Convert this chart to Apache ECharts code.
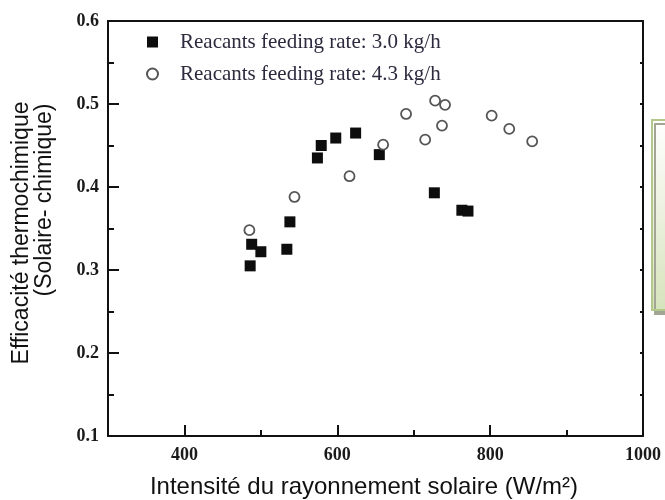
<!DOCTYPE html>
<html><head><meta charset="utf-8">
<script src="https://cdn.jsdelivr.net/npm/echarts@6/dist/echarts.min.js"></script>
<style>html,body{margin:0;padding:0;background:#fff}#c{width:665px;height:500px}</style>
</head><body><div id="c"></div>
<script>
var seriesNames = ['Reacants feeding rate: 3.0 kg/h', 'Reacants feeding rate: 4.3 kg/h'];
var sqX = [486, 488, 500, 534, 538, 574, 579, 598, 624, 655, 727, 763, 771];
var sqY = [0.305, 0.331, 0.322, 0.325, 0.358, 0.435, 0.450, 0.459, 0.465, 0.439, 0.393, 0.372, 0.371];
var ciX = [485, 544, 616, 660, 690, 715, 728, 741, 737, 802, 825, 855];
var ciY = [0.348, 0.388, 0.413, 0.451, 0.488, 0.457, 0.504, 0.499, 0.474, 0.486, 0.470, 0.455];
var xMajor = [400, 600, 800, 1000];
var xMinor = [500, 700, 900];
var xTitle = 'Intensité du rayonnement solaire (W/m²)';
var yTitle1 = 'Efficacité thermochimique';
var yTitle2 = '(Solaire- chimique)';

function pairs(xs, ys){ return xs.map(function(x,i){ return [x, ys[i]]; }); }

var chart = echarts.init(document.getElementById('c'), null, {renderer:'canvas'});
var tickLabel = {fontFamily:'Liberation Serif', fontWeight:'bold', fontSize:18, color:'#1a1a1a'};
chart.setOption({
  animation:false,
  grid:{left:108, right:22, top:21, bottom:64, containLabel:false},
  legend:{
    orient:'vertical', left:141, top:26, itemWidth:11, itemHeight:11, itemGap:10,
    textStyle:{fontFamily:'Liberation Serif', fontSize:21, color:'#2d2a3e', lineHeight:22, padding:[0,0,0,17]},
    data:[{name:seriesNames[0]},{name:seriesNames[1]}]
  },
  xAxis:[
    {type:'value', min:300, max:1000, interval:100,
     axisLine:{show:true, lineStyle:{color:'#111', width:2}},
     axisTick:{show:true, inside:true, length:11, customValues:xMajor, lineStyle:{color:'#111', width:2}},
     axisLabel:{customValues:xMajor, margin:10, formatter:function(v){return String(v);}, ...tickLabel},
     splitLine:{show:false}},
    {type:'value', min:300, max:1000, interval:100, position:'bottom',
     axisLine:{show:false},
     axisTick:{show:true, inside:true, length:6, customValues:xMinor, lineStyle:{color:'#111', width:2}},
     axisLabel:{show:false}, splitLine:{show:false}},
    {type:'value', min:300, max:1000, interval:100, position:'top',
     axisLine:{show:true, lineStyle:{color:'#111', width:2}},
     axisTick:{show:false}, axisLabel:{show:false}, splitLine:{show:false}}
  ],
  yAxis:[
    {type:'value', min:0.1, max:0.6, interval:0.1,
     axisLine:{show:true, lineStyle:{color:'#111', width:2}},
     axisTick:{show:true, inside:true, length:11, lineStyle:{color:'#111', width:2}},
     minorTick:{show:true, splitNumber:2, length:6, lineStyle:{color:'#111', width:2}},
     axisLabel:{margin:9, formatter:function(v){return v.toFixed(1);}, ...tickLabel},
     splitLine:{show:false}},
    {type:'value', min:0.1, max:0.6, interval:0.05, position:'right',
     axisLine:{show:true, lineStyle:{color:'#111', width:2}},
     axisTick:{show:true, inside:true, length:3, lineStyle:{color:'#111', width:2}},
     axisLabel:{show:false}, splitLine:{show:false}}
  ],
  series:[
    {name:seriesNames[0], type:'scatter', symbol:'rect', symbolSize:11,
     itemStyle:{color:'#0d0d0d', opacity:1}, data:pairs(sqX, sqY), z:3},
    {name:seriesNames[1], type:'scatter', symbol:'circle', symbolSize:10,
     itemStyle:{color:'#ffffff', borderColor:'#555555', borderWidth:1.8, opacity:1}, data:pairs(ciX, ciY), z:4}
  ],
  graphic:[
    {type:'rect', shape:{x:652, y:120, width:40, height:190}, z:1,
     style:{fill:{type:'linear', x:0, y:0, x2:0, y2:1, colorStops:[{offset:0,color:'#ffffff'},{offset:1,color:'#d6e3bb'}]},
            stroke:'#b3c98c', lineWidth:2, shadowColor:'#a3a595', shadowOffsetX:3, shadowOffsetY:4, shadowBlur:0}},
    {type:'text', x:364, y:487, z:10,
     style:{text:xTitle, font:'24px "Liberation Sans"', fill:'#111', textAlign:'center', textVerticalAlign:'middle'}},
    {type:'text', x:22, y:233, rotation:Math.PI/2, z:10,
     style:{text:yTitle1, font:'23px "Liberation Sans"', fill:'#111', textAlign:'center', textVerticalAlign:'middle'}},
    {type:'text', x:45, y:200, rotation:Math.PI/2, z:10,
     style:{text:yTitle2, font:'23px "Liberation Sans"', fill:'#111', textAlign:'center', textVerticalAlign:'middle'}}
  ]
});
</script></body></html>
